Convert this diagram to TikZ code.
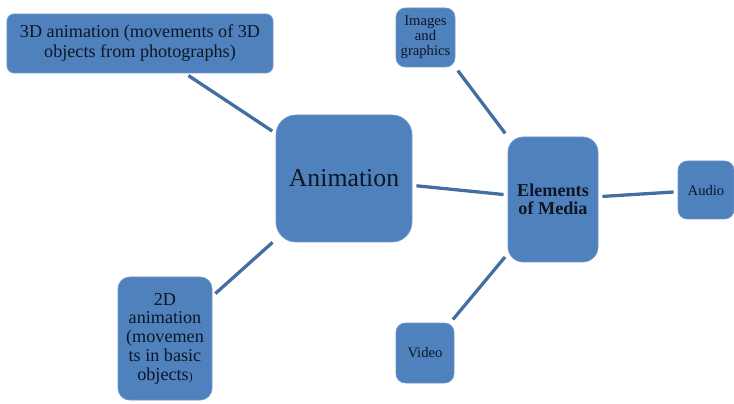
\documentclass[tikz,border=0pt]{standalone}
\usepackage{fontspec}
\setmainfont{Liberation Serif}
\definecolor{boxblue}{RGB}{79,129,189}
\definecolor{boxedge}{RGB}{112,152,204}
\definecolor{linkblue}{RGB}{66,110,162}
\definecolor{textdark}{RGB}{14,22,38}

\begin{document}
\begin{tikzpicture}[
  topic/.style={rectangle, rounded corners=8pt, draw=boxedge, line width=0.6pt, fill=boxblue,
    text=textdark, align=center, inner sep=0pt},
  big/.style={font=\fontsize{15.5}{17}\selectfont},
  small/.style={font=\fontsize{12.5}{13}\selectfont},
  link/.style={line width=2.8pt, draw=linkblue, shorten >=3.5pt, shorten <=3.5pt}
]
  \useasboundingbox (0,0) rectangle (22.02,12.09);

  % Centre topics
  \node[topic, rounded corners=17pt, minimum width=4.08cm, minimum height=3.81cm,
    font=\fontsize{22}{24}\selectfont] (anim) at (10.32,6.735) {Animation};
  \node[topic, rounded corners=13pt, minimum width=2.7cm, minimum height=3.75cm,
    font=\fontsize{15.5}{15.5}\selectfont\bfseries] (media) at (16.59,6.105) {Elements\\of Media};

  % Animation branches
  \node[topic, rounded corners=6pt, big, minimum width=7.98cm, minimum height=1.77cm] (threed)
    at (4.2,10.785) {3D animation (movements of 3D\\objects from photographs)};
  \node[topic, rounded corners=10pt, font=\fontsize{15.5}{16}\selectfont, minimum width=2.82cm,
    minimum height=3.69cm] (twod) at (4.95,1.935)
    {2D\\animation\\(movemen\\ts in basic\\objects{\fontsize{10}{10}\selectfont)}};

  % Media branches
  \node[topic, small, minimum width=1.77cm, minimum height=1.77cm] (images)
    at (12.765,10.965) {Images\\and\\graphics};
  \node[topic, small, minimum width=1.68cm, minimum height=1.74cm] (audio) at (21.18,6.39) {Audio};
  \node[topic, small, minimum width=1.74cm, minimum height=1.8cm] (video) at (12.75,1.5) {Video};

  % Connectors
  \draw[link] (threed) -- (anim);
  \draw[link] (anim) -- (twod);
  \draw[link] (anim) -- (media);
  \draw[link] (images.south east) -- (media.north west);
  \draw[link] (media) -- (audio);
  \draw[link] (media) -- (video);
\end{tikzpicture}
\end{document}
